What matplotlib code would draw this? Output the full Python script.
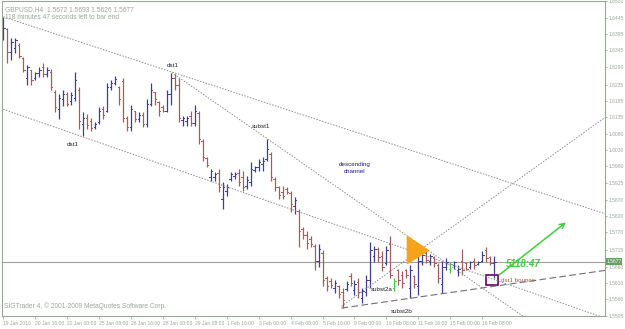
import matplotlib
matplotlib.use("Agg")
import matplotlib.pyplot as plt
from matplotlib.patches import Polygon, Rectangle

plt.rcParams['font.family'] = ['Liberation Sans Narrow', 'Liberation Sans', 'DejaVu Sans']

# GBPUSD H4 bars
highs = [1.6450, 1.6415, 1.6384, 1.6384, 1.6368, 1.6324, 1.6299, 1.6283, 1.6277, 1.6290,
         1.6305, 1.6290, 1.6286, 1.6220, 1.6205, 1.6220, 1.6214, 1.6214, 1.6277, 1.6227,
         1.6148, 1.6142, 1.6132, 1.6117, 1.6164, 1.6167, 1.6242, 1.6252, 1.6264, 1.6233,
         1.6258, 1.6136, 1.6173, 1.6151, 1.6148, 1.6148, 1.6189, 1.6242, 1.6214, 1.6183,
         1.6173, 1.6220, 1.6274, 1.6268, 1.6258, 1.6136, 1.6136, 1.6151, 1.6173, 1.6151,
         1.6063, 1.6007, 1.5969, 1.5960, 1.5969, 1.5928, 1.5922, 1.5960, 1.5960, 1.5969,
         1.5963, 1.5947, 1.5991, 1.5979, 1.6001, 1.6007, 1.6063, 1.6023, 1.5944, 1.5916,
         1.5916, 1.5913, 1.5900, 1.5881, 1.5844, 1.5787, 1.5775, 1.5759, 1.5734, 1.5734,
         1.5712, 1.5630, 1.5624, 1.5618, 1.5602, 1.5592, 1.5614, 1.5640, 1.5618, 1.5624,
         1.5592, 1.5633, 1.5740, 1.5727, 1.5724, 1.5709, 1.5727, 1.5759, 1.5624, 1.5655,
         1.5646, 1.5655, 1.5665, 1.5633, 1.5696, 1.5709, 1.5718, 1.5702, 1.5693, 1.5671,
         1.5680, 1.5687, 1.5677, 1.5680, 1.5665, 1.5718, 1.5677, 1.5680, 1.5687, 1.5680,
         1.5709, 1.5724, 1.5696, 1.5693]
lows = [1.6377, 1.6305, 1.6315, 1.6337, 1.6321, 1.6277, 1.6236, 1.6236, 1.6252, 1.6261,
        1.6261, 1.6261, 1.6220, 1.6148, 1.6126, 1.6167, 1.6167, 1.6173, 1.6183, 1.6095,
        1.6073, 1.6095, 1.6089, 1.6095, 1.6110, 1.6126, 1.6148, 1.6220, 1.6236, 1.6173,
        1.6117, 1.6089, 1.6089, 1.6117, 1.6117, 1.6101, 1.6101, 1.6167, 1.6173, 1.6136,
        1.6148, 1.6148, 1.6173, 1.6220, 1.6117, 1.6104, 1.6104, 1.6104, 1.6104, 1.6048,
        1.5994, 1.5975, 1.5932, 1.5932, 1.5897, 1.5844, 1.5884, 1.5932, 1.5938, 1.5916,
        1.5900, 1.5906, 1.5916, 1.5960, 1.5963, 1.5963, 1.5994, 1.5932, 1.5900, 1.5875,
        1.5875, 1.5891, 1.5834, 1.5828, 1.5724, 1.5749, 1.5718, 1.5724, 1.5649, 1.5661,
        1.5599, 1.5583, 1.5592, 1.5577, 1.5561, 1.5530, 1.5583, 1.5599, 1.5570, 1.5561,
        1.5545, 1.5567, 1.5592, 1.5677, 1.5677, 1.5646, 1.5665, 1.5624, 1.5583, 1.5602,
        1.5592, 1.5624, 1.5561, 1.5592, 1.5570, 1.5665, 1.5671, 1.5665, 1.5661, 1.5608,
        1.5577, 1.5649, 1.5640, 1.5655, 1.5630, 1.5633, 1.5649, 1.5655, 1.5655, 1.5665,
        1.5677, 1.5677, 1.5665, 1.5626]
opens = [1.6390, 1.6412, 1.6340, 1.6352, 1.6362, 1.6321, 1.6258, 1.6283, 1.6258, 1.6271,
         1.6290, 1.6268, 1.6277, 1.6214, 1.6158, 1.6189, 1.6205, 1.6183, 1.6195, 1.6220,
         1.6110, 1.6132, 1.6120, 1.6101, 1.6117, 1.6158, 1.6151, 1.6227, 1.6242, 1.6227,
         1.6246, 1.6132, 1.6101, 1.6151, 1.6126, 1.6139, 1.6110, 1.6176, 1.6214, 1.6180,
         1.6164, 1.6154, 1.6205, 1.6258, 1.6236, 1.6123, 1.6120, 1.6136, 1.6114, 1.6145,
         1.6057, 1.6004, 1.5944, 1.5944, 1.5957, 1.5875, 1.5900, 1.5938, 1.5947, 1.5957,
         1.5944, 1.5916, 1.5928, 1.5966, 1.5975, 1.5985, 1.6001, 1.6016, 1.5938, 1.5913,
         1.5897, 1.5906, 1.5894, 1.5853, 1.5837, 1.5781, 1.5762, 1.5749, 1.5727, 1.5680,
         1.5705, 1.5624, 1.5614, 1.5592, 1.5599, 1.5580, 1.5589, 1.5630, 1.5586, 1.5611,
         1.5561, 1.5580, 1.5618, 1.5693, 1.5718, 1.5696, 1.5671, 1.5731, 1.5592, 1.5649,
         1.5636, 1.5649, 1.5592, 1.5630, 1.5599, 1.5680, 1.5705, 1.5680, 1.5690, 1.5665,
         1.5605, 1.5661, 1.5652, 1.5665, 1.5649, 1.5680, 1.5671, 1.5661, 1.5680, 1.5668,
         1.5680, 1.5712, 1.5690, 1.5672]
closes = [1.6415, 1.6340, 1.6371, 1.6377, 1.6327, 1.6283, 1.6290, 1.6252, 1.6271, 1.6283,
          1.6268, 1.6283, 1.6227, 1.6164, 1.6195, 1.6205, 1.6176, 1.6202, 1.6252, 1.6120,
          1.6132, 1.6107, 1.6098, 1.6110, 1.6151, 1.6139, 1.6227, 1.6242, 1.6255, 1.6189,
          1.6132, 1.6101, 1.6158, 1.6126, 1.6139, 1.6110, 1.6176, 1.6220, 1.6189, 1.6151,
          1.6154, 1.6205, 1.6258, 1.6236, 1.6132, 1.6129, 1.6129, 1.6114, 1.6151, 1.6063,
          1.6007, 1.5982, 1.5963, 1.5953, 1.5913, 1.5913, 1.5913, 1.5953, 1.5953, 1.5928,
          1.5913, 1.5935, 1.5969, 1.5975, 1.5991, 1.5994, 1.6032, 1.5944, 1.5913, 1.5888,
          1.5884, 1.5897, 1.5859, 1.5872, 1.5775, 1.5762, 1.5737, 1.5731, 1.5680, 1.5718,
          1.5618, 1.5599, 1.5602, 1.5608, 1.5574, 1.5555, 1.5605, 1.5608, 1.5605, 1.5580,
          1.5583, 1.5618, 1.5712, 1.5718, 1.5690, 1.5661, 1.5712, 1.5636, 1.5614, 1.5618,
          1.5608, 1.5633, 1.5649, 1.5605, 1.5680, 1.5699, 1.5683, 1.5693, 1.5671, 1.5624,
          1.5661, 1.5677, 1.5668, 1.5674, 1.5655, 1.5649, 1.5655, 1.5674, 1.5665, 1.5677,
          1.5699, 1.5687, 1.5671, 1.5677]
green_bars = [98, 112]

price_ticks = [1.6500, 1.6445, 1.6395, 1.6345, 1.6290, 1.6235, 1.6185, 1.6135, 1.6080, 1.6030,
               1.5980, 1.5925, 1.5870, 1.5820, 1.5770, 1.5715, 1.5660, 1.5610, 1.5560, 1.5505]
date_labels = ["19 Jan 2010", "20 Jan 16:00", "22 Jan 00:00", "25 Jan 08:00", "26 Jan 16:00",
               "28 Jan 00:00", "29 Jan 08:00", "1 Feb 16:00", "3 Feb 00:00", "4 Feb 08:00",
               "5 Feb 16:00", "9 Feb 00:00", "10 Feb 08:00", "11 Feb 16:00", "15 Feb 00:00",
               "16 Feb 08:00"]
last_price = 1.5677

up_col = "#3f3f8c"
dn_col = "#a65c5c"
grn = "#3ccf3c"
axcol = "#98a898"
linecol = "#8a8a8a"

fig = plt.figure(figsize=(6.25, 3.29), dpi=100)
ax = fig.add_axes([2/625, 1 - 316/329, 603/625, 315/329])
ax.set_xlim(-0.3, 150.75)
ax.set_ylim(1.5511, 1.6500)

# OHLC bars
for i in range(len(highs)):
    c = up_col if closes[i] >= opens[i] else dn_col
    if i in green_bars:
        c = grn
    ax.plot([i, i], [lows[i], highs[i]], color=c, lw=0.9, solid_capstyle="butt")
    ax.plot([i - 0.35, i], [opens[i], opens[i]], color=c, lw=0.7)
    ax.plot([i, i + 0.35], [closes[i], closes[i]], color=c, lw=0.7)

# bid line
ax.axhline(last_price, color="#a0a0a0", lw=0.8, zorder=0)

# trend lines
dots = (0, (1.5, 1.5))
ax.plot([0, 150.75], [1.6450, 1.5828], color=linecol, lw=0.7, ls=dots)
ax.plot([0, 149.5], [1.6158, 1.5504], color=linecol, lw=0.7, ls=dots)
ax.plot([42.25, 130.25], [1.6274, 1.5504], color=linecol, lw=0.7, ls=dots)
ax.plot([84.75, 150.75], [1.5536, 1.6132], color=linecol, lw=0.7, ls=dots)
ax.plot([84.75, 150.75], [1.5530, 1.5649], color="#707070", lw=0.8, ls=(0, (6, 3)))

# orange triangle
ax.add_patch(Polygon([[101.25, 1.5756], [101.25, 1.5671], [106.5, 1.5712]],
                     closed=True, facecolor="#f7a21b", edgecolor="#f7a21b", zorder=3))

# green arrow
ax.annotate("", xy=(141.5, 1.5806), xytext=(123.75, 1.5630),
            arrowprops=dict(arrowstyle="->", color=grn, lw=1.1, mutation_scale=9))
ax.text(126.0, 1.5668, "5118:47", color=grn, fontsize=7, fontweight="bold",
        va="center", ha="left", style="italic")

# purple box + label
ax.add_patch(Rectangle((121.0, 1.5602), 3.0, 0.0031, fill=False, edgecolor="#660066", lw=1.2))
ax.text(124.6, 1.5618, "dst1 bounce", color="#b05050", fontsize=4.5, va="center")

# chart labels
lab = dict(fontsize=4.5, color="#202020", ha="center", va="center")
ax.text(42.5, 1.6296, "dst1", **lab)
ax.text(17.5, 1.6048, "dst1", **lab)
ax.text(64.5, 1.6104, "subst1", **lab)
ax.text(94.75, 1.5589, "subst2a", **lab)
ax.text(99.75, 1.5520, "subst2b", **lab)
ax.text(88.0, 1.5973, "descending\nchannel", fontsize=4.5, color="#202080",
        ha="center", va="center", linespacing=1.6)

# header / footer text
ax.text(0.005, 0.985, "GBPUSD,H4  1.5672 1.5693 1.5626 1.5677", transform=ax.transAxes,
        fontsize=4.8, color=axcol, va="top")
ax.text(0.005, 0.958, "118 minutes 47 seconds left to bar end", transform=ax.transAxes,
        fontsize=4.8, color=axcol, va="top")
ax.text(0.003, 0.018, "SIGTrader 4, \u00a9 2001-2009 MetaQuotes Software Corp.",
        transform=ax.transAxes, fontsize=4.8, color=axcol, va="bottom")

# axes styling
for s in ax.spines.values():
    s.set_color(axcol)
    s.set_linewidth(0.8)
ax.yaxis.tick_right()
ax.set_yticks(price_ticks)
ax.set_yticklabels(["%.4f" % p for p in price_ticks])
ax.tick_params(axis="y", colors=axcol, labelsize=3.6, length=1.5, width=0.6, pad=0.8)
ax.set_xticks([8 * k for k in range(len(date_labels))])
ax.set_xticklabels(date_labels, ha="left")
ax.tick_params(axis="x", colors=axcol, labelsize=3.6, length=2, width=0.6, pad=1.5)

# current price marker on the scale
ax.text(1.002, last_price, "%.4f" % last_price, transform=ax.get_yaxis_transform(),
        fontsize=3.6, color="white", va="center", ha="left",
        bbox=dict(boxstyle="square,pad=0.12", facecolor="#62a062", edgecolor="none"))

fig.savefig("out.png", dpi=100)
